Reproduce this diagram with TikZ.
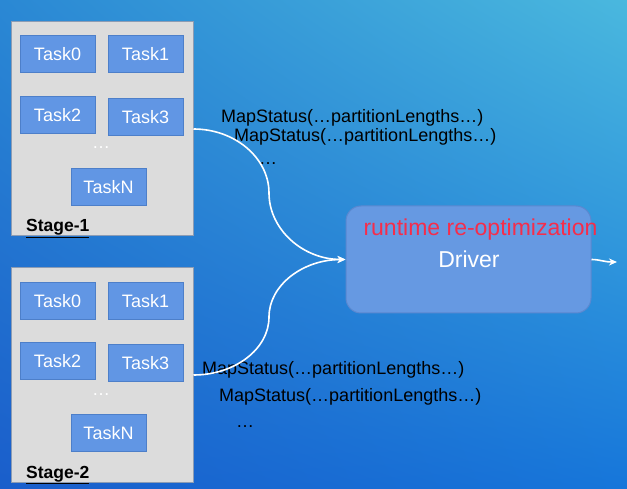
\documentclass[tikz,border=0pt]{standalone}
\usepackage{fontspec}
\setmainfont{Liberation Sans}
\usetikzlibrary{arrows.meta,shadings}
\definecolor{bgUL}{HTML}{2A88D4}
\definecolor{bgUR}{HTML}{4AB8DE}
\definecolor{bgLL}{HTML}{1A5ECB}
\definecolor{bgLR}{HTML}{1676DA}
\definecolor{stagefill}{HTML}{DCDCDC}
\definecolor{stageline}{HTML}{8C9CB4}
\definecolor{taskfill}{HTML}{6196E4}
\definecolor{taskline}{HTML}{4D7FC9}
\definecolor{drvfill}{HTML}{6699E2}
\definecolor{drvline}{HTML}{5A88D0}
\definecolor{reoptred}{HTML}{F52D4B}
\tikzset{
  stagebox/.style={draw=stageline, fill=stagefill, line width=1pt, minimum width=182pt, minimum height=214pt, inner sep=0pt},
  taskbox/.style={draw=taskline, fill=taskfill, line width=1pt, minimum width=75pt, minimum height=37pt, inner sep=0pt, text=white, font=\fontsize{18}{20}\selectfont},
  dotsnode/.style={text=white, inner sep=0pt, font=\fontsize{18}{20}\selectfont},
  stagelabel/.style={anchor=base west, inner sep=0pt, font=\fontsize{17.5}{20}\selectfont\bfseries},
  drvbox/.style={draw=drvline, fill=drvfill, line width=1pt, rounded corners=15pt, minimum width=245pt, minimum height=107pt, inner sep=0pt},
  msg/.style={anchor=base west, inner sep=0pt, text=black, font=\fontsize{18}{20}\selectfont},
  flow/.style={draw=white, line width=1.6pt, -{Stealth[length=8pt,width=7pt]}},
}
\begin{document}
\begin{tikzpicture}[x=1pt,y=-1pt]
\useasboundingbox (0,0) rectangle (627,489);
\shade[upper left=bgUL, upper right=bgUR, lower left=bgLL, lower right=bgLR] (0,0) rectangle (627,489);

% Stage 1
\node[stagebox] (stage1) at (102,129) {};
\node[taskbox] (s1t0) at (57.5,54.5) {Task0};
\node[taskbox] (s1t1) at (145.5,54.5) {Task1};
\node[taskbox] (s1t2) at (57.5,115) {Task2};
\node[taskbox] (s1t3) at (145.5,117) {Task3};
\node[dotsnode] (s1dots) at (101,148) {…};
\node[taskbox] (s1tn) at (108.5,187) {TaskN};
\node[stagelabel] (s1lab) at (26,232) {\underline{Stage-1}};

% Stage 2
\node[stagebox] (stage2) at (102,375) {};
\node[taskbox] (s2t0) at (57.5,301) {Task0};
\node[taskbox] (s2t1) at (145.5,301) {Task1};
\node[taskbox] (s2t2) at (57.5,361) {Task2};
\node[taskbox] (s2t3) at (145.5,363) {Task3};
\node[dotsnode] (s2dots) at (101,395) {…};
\node[taskbox] (s2tn) at (108.5,433) {TaskN};
\node[stagelabel] (s2lab) at (26,478) {\underline{Stage-2}};

% Driver
\node[drvbox] (driver) at (468.5,259.5) {};
\node[anchor=base, inner sep=0pt, text=reoptred, font=\fontsize{23}{25}\selectfont] (reopt) at (480.5,235.5) {runtime re-optimization};
\node[anchor=base, inner sep=0pt, text=white, font=\fontsize{23}{25}\selectfont] (drvtext) at (469,267.5) {Driver};

% Messages
\node[msg] (m1a) at (221,122.3) {MapStatus(…partitionLengths…)};
\node[msg] (m1b) at (234,141.7) {MapStatus(…partitionLengths…)};
\node[msg] (m1c) at (259,165) {…};
\node[msg] (m2a) at (202,374.3) {MapStatus(…partitionLengths…)};
\node[msg] (m2b) at (219,401) {MapStatus(…partitionLengths…)};
\node[msg] (m2c) at (236,427.7) {…};

% Connectors
\draw[flow] (stage1.east) .. controls (235,129) and (269,158) .. (269,193)
  .. controls (269,229.5) and (303,259.5) .. (driver.west);
\draw[flow] (stage2.east) .. controls (235,375) and (269,349) .. (269,317)
  .. controls (269,285) and (303,259.5) .. (driver.west);
\coordinate (outend) at (617,262);
\draw[flow] (driver.east) .. controls (600,259.5) and (604,262) .. (outend);
\end{tikzpicture}
\end{document}
